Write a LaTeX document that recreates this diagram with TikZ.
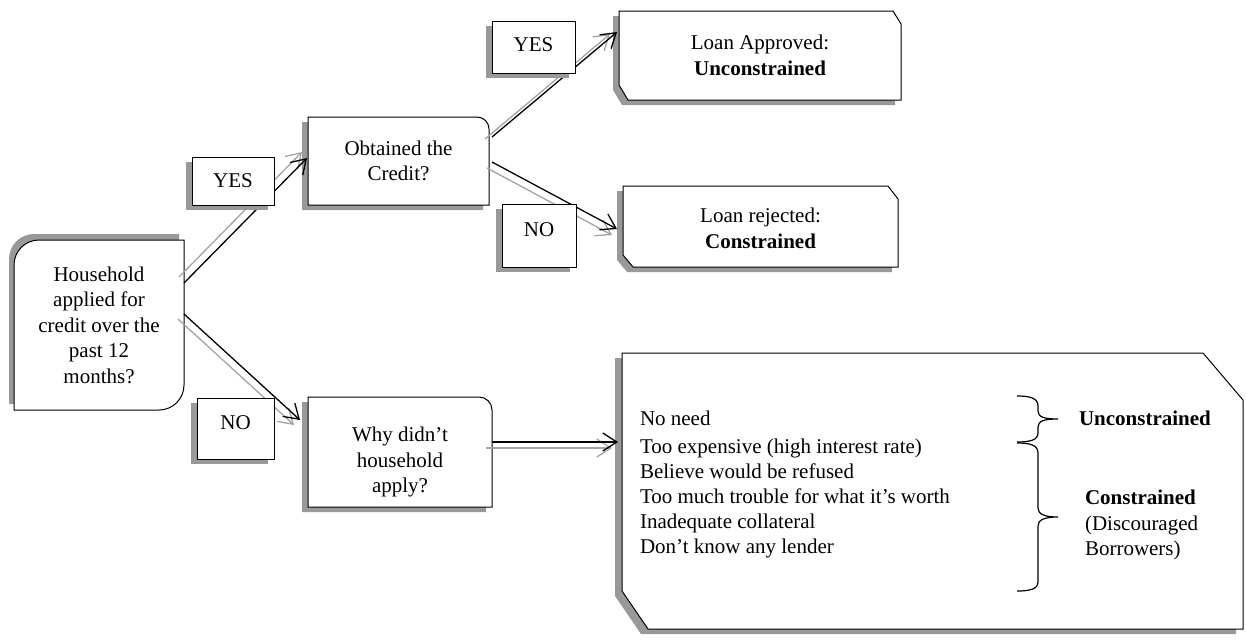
\documentclass[tikz,border=0pt]{standalone}
\usepackage{fontspec}
\setmainfont{Liberation Serif}
\usetikzlibrary{arrows.meta,calc}
\pgfdeclarelayer{bg}\pgfdeclarelayer{arr}\pgfdeclarelayer{lab}
\pgfsetlayers{bg,arr,lab,main}
\definecolor{shad}{gray}{0.6}
\definecolor{ashad}{gray}{0.64}
\begin{document}
\begin{tikzpicture}[x=1pt,y=-1pt,
  every node/.style={font=\fontsize{21}{25.5}\selectfont, inner sep=0pt, outer sep=0pt},
  bx/.style 2 args={minimum width=#1pt, minimum height=#2pt, align=center},
  outline/.style={draw=black, line width=1pt, fill=white},
  shadow/.style={fill=shad, draw=none},
  sqp/.style={insert path={(#1.south west) rectangle (#1.north east)}},
  rtrp/.style 2 args={insert path={(#1.south west) -- (#1.north west) -- ([xshift=-#2]#1.north east) arc[start angle=90,end angle=0,radius=#2] -- (#1.south east) -- cycle}},
  hhp/.style 2 args={insert path={([xshift=#2]#1.north west) -- (#1.north east) -- ([yshift=#2]#1.south east) arc[start angle=0,end angle=-90,radius=#2] -- (#1.south west) -- ([yshift=-#2]#1.north west) arc[start angle=180,end angle=90,radius=#2] -- cycle}},
  chp/.style n args={5}{insert path={(#1.north west) -- ([xshift=-#2]#1.north east) -- ([yshift=-#3]#1.north east) -- (#1.south east) -- ([xshift=#4]#1.south west) -- ([yshift=#5]#1.south west) -- cycle}},
  arrowb/.style={draw=black, line width=1.3pt, -{Straight Barb[length=14pt,width=18pt]}},
  arrowg/.style={draw=ashad, line width=1.3pt, -{Straight Barb[length=14pt,width=18pt]}},
  bracec/.style={draw=black, line width=1.2pt}
]
\useasboundingbox (0,0) rectangle (1246,640);

% ---- nodes (text) ----
\node[bx={170}{170}] (h) at (99,325) {Household\\applied for\\credit over the\\past 12\\months?};
\node[bx={82}{48}] (yes1) at (233,181) {YES};
\node[bx={181}{88}] (ob) at (398.5,161) {\raisebox{-2pt}[\height][\depth]{\begin{tabular}{@{}c@{}}Obtained the\\Credit?\end{tabular}}};
\node[bx={83}{52}] (yes2) at (533.5,47) {\raisebox{2pt}[\height][\depth]{YES}};
\node[bx={282}{89}] (la) at (760,55.5) {Loan Approved:\\\textbf{Unconstrained}};
\node[bx={74}{63}] (no2) at (539,235.5) {\raisebox{6pt}[\height][\depth]{NO}};
\node[bx={275}{81}] (lr) at (760.5,226.5) {\raisebox{-4pt}[\height][\depth]{\begin{tabular}{@{}c@{}}Loan rejected:\\\textbf{Constrained}\end{tabular}}};
\node[bx={77}{61}] (no1) at (235.5,428.5) {\raisebox{6pt}[\height][\depth]{NO}};
\node[bx={184}{110}] (why) at (400,452) {\raisebox{-10pt}[\height][\depth]{\begin{tabular}{@{}c@{}}Why didn’t\\household\\apply?\end{tabular}}};
\node[bx={621}{276}] (big) at (932.5,491) {};

\node[anchor=west] (noneed) at (640,418) {No need};
\node[anchor=west, align=left, font=\fontsize{21}{25}\selectfont] (reasons) at (640,498)
  {Too expensive (high interest rate)\\Believe would be refused\\Too much trouble for what it’s worth\\Inadequate collateral\\Don’t know any lender};
\node[anchor=west] (unc) at (1079,418) {\textbf{Unconstrained}};
\node[anchor=west, align=left] (con) at (1085,525) {\textbf{Constrained}\\(Discouraged\\Borrowers)};

% ---- main boxes ----
\begin{pgfonlayer}{bg}
\fill[shadow, transform canvas={shift={(-5pt,6pt)}}] [hhp={h}{25pt}];
\path[outline] [hhp={h}{25pt}];
\fill[shadow, transform canvas={shift={(-6pt,-5pt)}}] [rtrp={ob}{12pt}];
\path[outline] [rtrp={ob}{12pt}];
\fill[shadow, transform canvas={shift={(-6pt,-5pt)}}] [rtrp={why}{13pt}];
\path[outline] [rtrp={why}{13pt}];
\fill[shadow, transform canvas={shift={(-6pt,-5pt)}}] [chp={la}{8pt}{13pt}{9pt}{15pt}];
\path[outline] [chp={la}{8pt}{13pt}{9pt}{15pt}];
\fill[shadow, transform canvas={shift={(-6pt,-5pt)}}] [chp={lr}{10pt}{13pt}{10pt}{12pt}];
\path[outline] [chp={lr}{10pt}{13pt}{10pt}{12pt}];
\fill[shadow, transform canvas={shift={(-7pt,-5pt)}}] [chp={big}{40pt}{47pt}{26pt}{38pt}];
\path[outline] [chp={big}{40pt}{47pt}{26pt}{38pt}];
\end{pgfonlayer}

% ---- connectors ----
\begin{pgfonlayer}{arr}
\draw[arrowg, transform canvas={shift={(-5pt,6pt)}}] ([yshift=42pt]h.east) -- ([xshift=-1pt,yshift=3pt]ob.west);
\draw[arrowb] ([yshift=42pt]h.east) -- ([xshift=-1pt,yshift=3pt]ob.west);
\draw[arrowg, transform canvas={shift={(-6pt,-5pt)}}] ([yshift=11pt]h.east) -- ([xshift=-8pt,yshift=-23pt]why.north west);
\draw[arrowb] ([yshift=11pt]h.east) -- ([xshift=-8pt,yshift=-23pt]why.north west);
\draw[arrowg, transform canvas={shift={(-7pt,-2pt)}}] ([xshift=3pt,yshift=24pt]ob.east) -- ([xshift=-2pt,yshift=23.5pt]la.west);
\draw[arrowb] ([xshift=3pt,yshift=24pt]ob.east) -- ([xshift=-2pt,yshift=23.5pt]la.west);
\draw[arrowg, transform canvas={shift={(-5pt,-6pt)}}] ([xshift=3pt,yshift=-1pt]ob.east) -- ([xshift=-6pt,yshift=-2.5pt]lr.west);
\draw[arrowb] ([xshift=3pt,yshift=-1pt]ob.east) -- ([xshift=-6pt,yshift=-2.5pt]lr.west);
\draw[arrowg, transform canvas={shift={(-6pt,-6pt)}}] ([yshift=10pt]why.east) -- ([xshift=-4pt,yshift=49pt]big.west);
\draw[arrowb] ([yshift=10pt]why.east) -- ([xshift=-4pt,yshift=49pt]big.west);
\end{pgfonlayer}

% ---- label boxes ----
\begin{pgfonlayer}{lab}
\foreach \n in {yes1,yes2,no1,no2}{
  \fill[shadow, transform canvas={shift={(-6pt,-5pt)}}] [sqp=\n];
  \path[outline] [sqp=\n];
}
\end{pgfonlayer}

% ---- braces ----
\draw[bracec] (1017,396) .. controls (1030,396) and (1038,398) .. (1038,406) -- (1038,411)
  .. controls (1038,417) and (1044,419) .. (1058,419)
  .. controls (1044,419) and (1038,421) .. (1038,427) -- (1038,433)
  .. controls (1038,440) and (1030,442) .. (1017,442);
\draw[bracec] (1017,443) .. controls (1030,443) and (1038,445) .. (1038,453) -- (1038,508)
  .. controls (1038,514) and (1044,517) .. (1058,517)
  .. controls (1044,517) and (1038,520) .. (1038,526) -- (1038,582)
  .. controls (1038,589) and (1030,591) .. (1017,591);
\end{tikzpicture}
\end{document}
